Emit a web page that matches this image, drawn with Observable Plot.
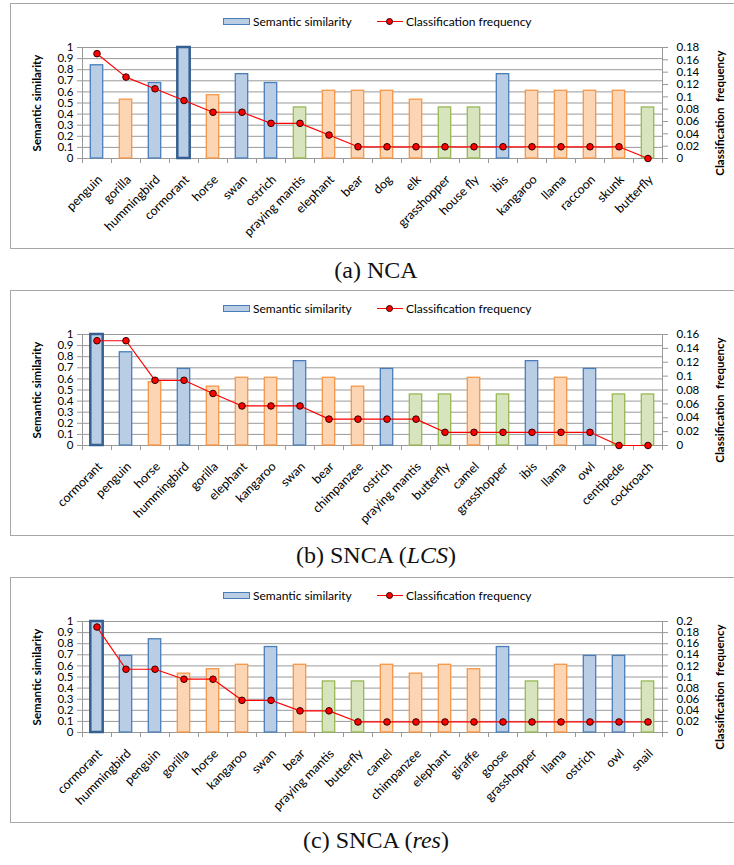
<!DOCTYPE html>
<html>
<head>
<meta charset="utf-8">
<script src="https://cdn.jsdelivr.net/npm/d3@7"></script>
<script src="https://cdn.jsdelivr.net/npm/@observablehq/plot@0.6"></script>
<style>
  html, body { margin: 0; padding: 0; background: #fff; }
  body { width: 734px; height: 865px; overflow: hidden; position: relative; font-family: Lato, "Open Sans", sans-serif; }
  .panel { position: absolute; left: 10px; width: 760px; height: 246px; }
  .border { position: absolute; left: 0; top: 0; width: 760px; height: 244px; border: 1px solid #a6a6a6; border-right: none; }
  .panel svg { position: absolute; left: 0; top: 0; }
  .leg { position: absolute; top: 12px; height: 12px; display: flex; align-items: center; font-size: 12px; color: #000; white-space: nowrap; }
  .sw { width: 25px; height: 5px; background: #b9cde5; border: 1px solid #4a7ebb; margin-right: 3px; }
  .ln { position: relative; width: 26px; height: 12px; margin-right: 3px; }
  .ln::before { content: ""; position: absolute; left: 0; right: 0; top: 6px; height: 1px; background: #f00; }
  .ln::after { content: ""; position: absolute; left: 9px; top: 2.5px; border-radius: 50%; background: #f00; border: 1px solid #300; box-sizing: border-box; width: 7px; height: 7px; }
  .cap { position: absolute; left: 0; width: 752px; text-align: center; font-family: "Liberation Serif", serif; font-size: 24px; line-height: 24px; color: #111; }
</style>
</head>
<body>
<script>
// ---------- data ----------
const leftTicks = [0, 0.1, 0.2, 0.3, 0.4, 0.5, 0.6, 0.7, 0.8, 0.9, 1];

// (a) NCA
const catsA = ["penguin","gorilla","hummingbird","cormorant","horse","swan","ostrich","praying mantis","elephant","bear","dog","elk","grasshopper","house fly","ibis","kangaroo","llama","raccoon","skunk","butterfly"];
const simA  = [0.84,0.53,0.68,1.0,0.57,0.76,0.68,0.46,0.61,0.61,0.61,0.53,0.46,0.46,0.76,0.61,0.61,0.61,0.61,0.46];
const freqA = [0.17,0.132,0.113,0.094,0.075,0.075,0.057,0.057,0.038,0.019,0.019,0.019,0.019,0.019,0.019,0.019,0.019,0.019,0.019,0];
const grpA  = ["bird","mammal","bird","bird","mammal","bird","bird","insect","mammal","mammal","mammal","mammal","insect","insect","bird","mammal","mammal","mammal","mammal","insect"];
const rTicksA = [0,0.02,0.04,0.06,0.08,0.1,0.12,0.14,0.16,0.18];

// (b) SNCA (LCS)
const catsB = ["cormorant","penguin","horse","hummingbird","gorilla","elephant","kangaroo","swan","bear","chimpanzee","ostrich","praying mantis","butterfly","camel","grasshopper","ibis","llama","owl","centipede","cockroach"];
const simB  = [1.0,0.84,0.57,0.69,0.53,0.61,0.61,0.76,0.61,0.53,0.69,0.46,0.46,0.61,0.46,0.76,0.61,0.69,0.46,0.46];
const freqB = [0.151,0.151,0.094,0.094,0.075,0.057,0.057,0.057,0.038,0.038,0.038,0.038,0.019,0.019,0.019,0.019,0.019,0.019,0,0];
const grpB  = ["bird","bird","mammal","bird","mammal","mammal","mammal","bird","mammal","mammal","bird","insect","insect","mammal","insect","bird","mammal","bird","insect","insect"];
const rTicksB = [0,0.02,0.04,0.06,0.08,0.1,0.12,0.14,0.16];

// (c) SNCA (res)
const catsC = ["cormorant","hummingbird","penguin","gorilla","horse","kangaroo","swan","bear","praying mantis","butterfly","camel","chimpanzee","elephant","giraffe","goose","grasshopper","llama","ostrich","owl","snail"];
const simC  = [1.0,0.69,0.84,0.53,0.57,0.61,0.77,0.61,0.46,0.46,0.61,0.53,0.61,0.57,0.77,0.46,0.61,0.69,0.69,0.46];
const freqC = [0.19,0.114,0.114,0.096,0.096,0.058,0.058,0.039,0.039,0.019,0.019,0.019,0.019,0.019,0.019,0.019,0.019,0.019,0.019,0.019];
const grpC  = ["bird","bird","bird","mammal","mammal","mammal","bird","mammal","insect","insect","mammal","mammal","mammal","mammal","bird","insect","mammal","bird","bird","insect"];
const rTicksC = [0,0.02,0.04,0.06,0.08,0.1,0.12,0.14,0.16,0.18,0.2];

const query = "cormorant";

// ---------- styles ----------
const fills   = {bird: "#b9cde5", mammal: "#fcd5b5", insect: "#d7e4bd"};
const strokes = {bird: "#4a7ebb", mammal: "#f79646", insect: "#98b954"};
const gridColor = "#999";

const W = 732, H = 246, ML = 72, MR = 80, MT = 44, MB = 91;
const fmt = d => String(Math.round(d * 100) / 100);

function chart(cats, sim, freq, grp, rTicks) {
  const rMax = rTicks[rTicks.length - 1];
  const data = cats.map((c, i) => ({cat: c, sim: sim[i], freq: freq[i], g: grp[i]}));
  const bw = (W - ML - MR) / cats.length;
  const bars = ["bird", "mammal", "insect"].map(g =>
    Plot.barY(data.filter(d => d.g === g && d.cat !== query), {
      x: "cat", y: "sim", fill: fills[g], stroke: strokes[g], strokeWidth: 1.3,
      insetLeft: 8.3, insetRight: 8.3
    }));
  return Plot.plot({
    width: W, height: H, marginLeft: ML, marginRight: MR, marginTop: MT, marginBottom: MB,
    style: {fontFamily: "Lato, 'Open Sans', sans-serif", fontSize: "12px", color: "#000", background: "transparent", overflow: "visible"},
    x: {domain: cats, padding: 0, label: null},
    y: {domain: [0, 1], label: null},
    marks: [
      Plot.gridY(leftTicks, {stroke: gridColor, strokeOpacity: 1}),
      Plot.frame({anchor: "left", stroke: gridColor}),
      Plot.frame({anchor: "right", stroke: gridColor}),
      Plot.axisY({anchor: "left", ticks: leftTicks, tickFormat: fmt, tickSize: 5, tickPadding: 4, label: null, stroke: gridColor, fontSize: 11.5}),
      Plot.axisY({anchor: "right", ticks: rTicks.map(t => t / rMax), tickFormat: d => fmt(d * rMax), tickSize: 5, tickPadding: 9, label: null, stroke: gridColor, fontSize: 11.5}),
      Plot.axisX({tickSize: 0, tickRotate: -45, tickPadding: 12, dx: 3, dy: 7, label: null, fontSize: 12.5}),
      Plot.ruleX(cats, {x: d => d, y1: 0, y2: -0.045, dx: -bw / 2, stroke: gridColor}),
      Plot.ruleX(cats.slice(-1), {x: d => d, y1: 0, y2: -0.045, dx: bw / 2, stroke: gridColor}),
      ...bars,
      Plot.barY(data.filter(d => d.cat === query), {
        x: "cat", y: "sim", fill: fills.bird, stroke: "#365f91", strokeWidth: 2.5,
        insetLeft: 8.3, insetRight: 8.3
      }),
      Plot.line(data, {x: "cat", y: d => d.freq / rMax, stroke: "#f00", strokeWidth: 1.2}),
      Plot.dot(data, {x: "cat", y: d => d.freq / rMax, r: 3.3, fill: "#f00", stroke: "#300", strokeWidth: 1}),
      Plot.text(["Semantic similarity"], {frameAnchor: "left", textAnchor: "middle", rotate: -90, dx: -45, fontWeight: "bold", fontSize: 11.5}),
      Plot.text(["Classification\u00a0\u00a0frequency"], {frameAnchor: "right", textAnchor: "middle", rotate: -90, dx: 58, dy: 10, fontWeight: "bold", fontSize: 11.5})
    ]
  });
}

const panels = [
  {top: 3,   cats: catsA, sim: simA, freq: freqA, grp: grpA, rt: rTicksA, cap: "(a) NCA", capTop: 258},
  {top: 290, cats: catsB, sim: simB, freq: freqB, grp: grpB, rt: rTicksB, cap: "(b) SNCA (<i>LCS</i>)", capTop: 543},
  {top: 577, cats: catsC, sim: simC, freq: freqC, grp: grpC, rt: rTicksC, cap: "(c) SNCA (<i>res</i>)", capTop: 828}
];

for (const p of panels) {
  const div = document.createElement("div");
  div.className = "panel";
  div.style.top = p.top + "px";
  const b = document.createElement("div");
  b.className = "border";
  div.appendChild(b);
  div.appendChild(chart(p.cats, p.sim, p.freq, p.grp, p.rt));
  const l1 = document.createElement("div");
  l1.className = "leg";
  l1.style.left = "213px";
  l1.innerHTML = '<span class="sw"></span><span>Semantic similarity</span>';
  div.appendChild(l1);
  const l2 = document.createElement("div");
  l2.className = "leg";
  l2.style.left = "367px";
  l2.innerHTML = '<span class="ln"></span><span>Classification frequency</span>';
  div.appendChild(l2);
  document.body.appendChild(div);
  const cap = document.createElement("div");
  cap.className = "cap";
  cap.style.top = p.capTop + "px";
  cap.innerHTML = p.cap;
  document.body.appendChild(cap);
}
</script>
</body>
</html>
